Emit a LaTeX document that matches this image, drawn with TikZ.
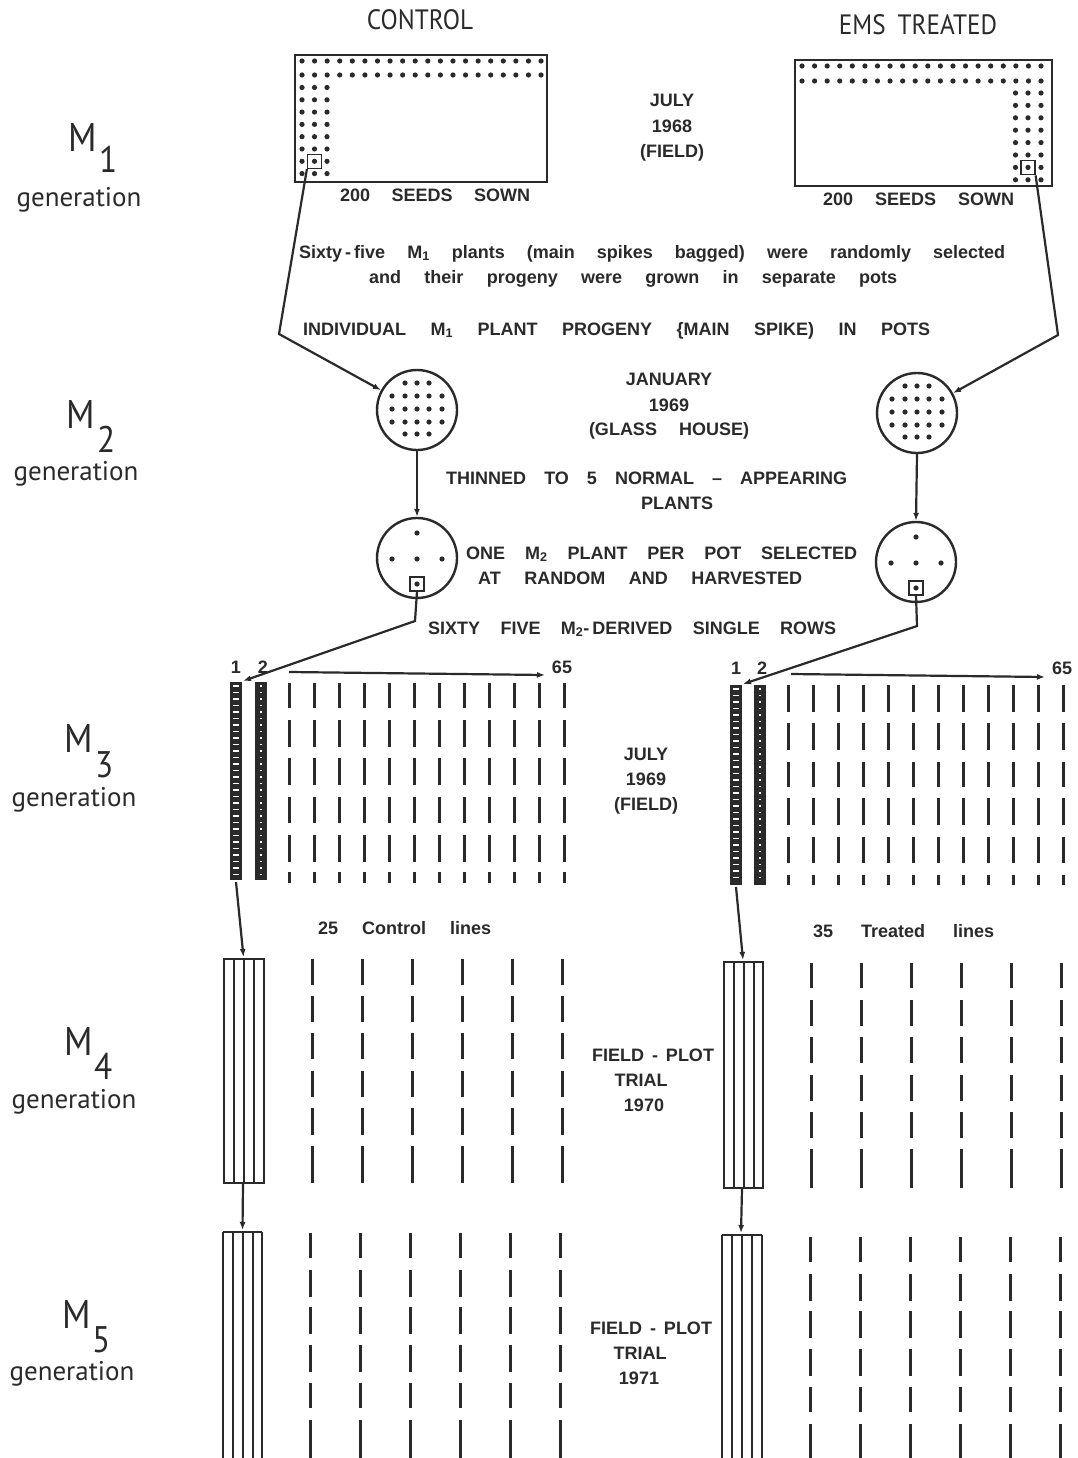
\documentclass[tikz,border=0pt]{standalone}
\usepackage{fontspec}
\setmainfont{Liberation Sans}
\newfontfamily\headfont{PT Sans}[FakeStretch=0.9]
\newfontfamily\genfont{PT Sans}
\usetikzlibrary{arrows.meta}
\definecolor{ink}{HTML}{2A2A2A}
\newcommand\spr[2]{\hbox to #1pt{\spaceskip=0.25em plus 1fill\relax #2}}
\begin{document}
\begin{tikzpicture}[x=1pt,y=-1pt,
  body/.style={font=\bfseries\fontsize{18}{18}\selectfont, text=ink, inner sep=0pt},
  txt/.style={body, anchor=base west},
  ctr/.style={body, anchor=base},
  head/.style={font=\headfont\fontsize{28}{28}\selectfont, text=ink, inner sep=0pt},
  bigm/.style={font=\headfont\fontsize{40}{40}\selectfont, text=ink, inner sep=0pt, anchor=base west},
  bigd/.style={font=\headfont\fontsize{37}{37}\selectfont, text=ink, inner sep=0pt, anchor=base west},
  gen/.style={font=\genfont\fontsize{27}{27}\selectfont, text=ink, inner sep=0pt, anchor=base},
  field/.style={draw=ink, line width=2.6pt},
  seed/.style={fill=ink},
  pot/.style={circle, draw=ink, line width=2.4pt, minimum size=80pt, inner sep=0pt},
  selbox/.style={draw=ink, line width=1.2pt, minimum size=14pt, inner sep=0pt},
  conn/.style={draw=ink, line width=2.2pt},
  arr/.style={conn, -{Latex[length=8pt,width=6pt]}},
  dashline/.style={draw=ink, line width=3pt},
  strip/.style={draw=ink, line width=2pt}
]
\useasboundingbox (0,0) rectangle (1077,1458);
\fill[white] (0,0) rectangle (1077,1458);

% ---------- headings ----------
\node[head] (hc) at (420,20) {CONTROL};
\node[head] (ht) at (918,25) {EMS\hspace{12pt}TREATED};

% ---------- generation labels ----------
\node[bigm] (m1) at (68,152) {M};  \node[bigd] (m1s) at (99,173) {1};
\node[gen] (g1) at (79,207) {generation};
\node[bigm] (m2) at (66,428) {M};  \node[bigd] (m2s) at (97,452) {2};
\node[gen] (g2) at (76,480) {generation};
\node[bigm] (m3) at (64,752) {M};  \node[bigd] (m3s) at (95,777) {3};
\node[gen] (g3) at (74,806) {generation};
\node[bigm] (m4) at (64,1055) {M}; \node[bigd] (m4s) at (94,1079) {4};
\node[gen] (g4) at (74,1108) {generation};
\node[bigm] (m5) at (62,1328) {M}; \node[bigd] (m5s) at (92,1352) {5};
\node[gen] (g5) at (72,1380) {generation};

% ---------- M1 fields ----------
\draw[field] (295,55) rectangle (547,182);
\foreach \i in {0,...,19}{
  \fill[seed] ({302+\i*12.58},61) circle (2.6);
  \fill[seed] ({302+\i*12.58},75) circle (2.6);}
\foreach \j in {0,...,7}{
  \foreach \xx in {302,314.5,327}{\fill[seed] (\xx,{87.5+\j*12.3}) circle (2.6);}}
\node[selbox] (sqL) at (314.5,161.5) {};

\draw[field] (795,60) rectangle (1052,186);
\foreach \i in {0,...,19}{
  \fill[seed] ({802+\i*12.58},66) circle (2.6);
  \fill[seed] ({802+\i*12.58},81) circle (2.6);}
\foreach \j in {0,...,7}{
  \foreach \xx in {1015.5,1028,1041}{\fill[seed] (\xx,{93+\j*12.4}) circle (2.6);}}
\node[selbox] (sqR) at (1028,167.8) {};

\node[txt] (sl) at (340,201) {\spr{190}{200 SEEDS SOWN}};
\node[txt] (sr) at (823,205) {\spr{191}{200 SEEDS SOWN}};

\node[ctr] (d1a) at (672,107) {JULY};
\node[ctr] (d1b) at (672,133) {1968};
\node[ctr] (d1c) at (672,158) {(FIELD)};

% ---------- text M1 -> M2 ----------
\node[txt] (t1) at (299,258) {\spr{706}{Sixty\,-\,five M\textsubscript{1} plants (main spikes bagged) were randomly selected}};
\node[txt] (t2) at (369,283) {\spr{528}{and their progeny were grown in separate pots}};
\node[txt] (t3) at (303,335) {\spr{627}{INDIVIDUAL M\textsubscript{1} PLANT PROGENY \{MAIN SPIKE) IN POTS}};

% ---------- M2 pots ----------
\node[pot] (p1L) at (417,410) {};
\node[pot] (p1R) at (917,413) {};
\node[pot] (p2L) at (417,558) {};
\node[pot] (p2R) at (916,562) {};
\foreach \dx/\dy in {-12/-27,0/-27,12/-27,
  -25/-14,-12/-14,0/-14,12/-14,25/-14,
  -25/-1,-12/-1,0/-1,12/-1,25/-1,
  -25/12,-12/12,0/12,12/12,25/12,
  -12/24,0/24,12/24}{
  \fill[seed] ([shift={(\dx,\dy)}]p1L.center) circle (2.6);
  \fill[seed] ([shift={(\dx,\dy)}]p1R.center) circle (2.6);}
\foreach \dx/\dy in {0/-25,-25/1,0/1,25/1,0/26}{
  \fill[seed] ([shift={(\dx,\dy)}]p2L.center) circle (2.6);
  \fill[seed] ([shift={(\dx,\dy)}]p2R.center) circle (2.6);}
\node[selbox] (qL) at ([shift={(0,26)}]p2L.center) {};
\node[selbox] (qR) at ([shift={(0,26)}]p2R.center) {};

\coordinate (bL) at (279,334);
\coordinate (bR) at (1058,335);
\draw[arr] (sqL.south west) -- (bL) -- (p1L);
\draw[arr] (sqR.south east) -- (bR) -- (p1R);
\draw[arr] (p1L.south) -- (p2L.north);
\draw[arr] (p1R.south) -- (p2R.north);

\node[ctr] (d2a) at (669,385) {JANUARY};
\node[ctr] (d2b) at (669,411) {1969};
\node[ctr] (d2c) at (669,435) {(GLASS\hspace{22pt}HOUSE)};
\node[txt] (t4) at (446,484) {\spr{401}{THINNED TO 5 NORMAL -- APPEARING}};
\node[ctr] (t5) at (677,509) {PLANTS};
\node[txt] (t6) at (466,559) {\spr{391}{ONE M\textsubscript{2} PLANT PER POT SELECTED}};
\node[txt] (t7) at (478,584) {\spr{324}{AT RANDOM AND HARVESTED}};
\node[txt] (t8) at (428,634) {\spr{408}{SIXTY FIVE M\textsubscript{2}-\,DERIVED SINGLE ROWS}};

% ---------- M3 rows ----------
\node[body,anchor=base] (n1L) at (236,673) {1};
\node[body,anchor=base] (n2L) at (263,673) {2};
\node[body,anchor=base] (n65L) at (562,673) {65};
\node[body,anchor=base] (n1R) at (736,674) {1};
\node[body,anchor=base] (n2R) at (762,674) {2};
\node[body,anchor=base] (n65R) at (1062,674) {65};
\coordinate (aL1) at (289,672); \coordinate (aL2) at (545,675);
\coordinate (aR1) at (791,674); \coordinate (aR2) at (1045,677);
\draw[arr] (aL1) -- (aL2);
\draw[arr] (aR1) -- (aR2);

% bars 1 and 2
\fill[ink] (230,682) rectangle (242,880);
\fill[ink] (255,682) rectangle (267,880);
\fill[ink] (730,685) rectangle (742,885);
\fill[ink] (754,685) rectangle (766,885);
\foreach \yy in {686,692.5,...,876}{
  \draw[white,line width=1.1pt] (233,\yy) -- (239,\yy);
  \draw[white,line width=1.1pt] (260,\yy) -- (262,\yy);}
\foreach \yy in {689,695.5,...,881}{
  \draw[white,line width=1.1pt] (733,\yy) -- (739,\yy);
  \draw[white,line width=1.1pt] (759,\yy) -- (761,\yy);}
\coordinate (r1L) at (243,681);
\coordinate (r1R) at (743,684);
\coordinate (kL) at (415,621);
\coordinate (kR) at (917,626);
\draw[arr] (qL.south) -- (kL) -- (r1L);
\draw[arr] (qR.south) -- (kR) -- (r1R);

\foreach \x in {289,314,...,564}{
  \foreach \a/\b in {683/708,720/747,758/785,797/823,835/862,872/883}{
    \draw[dashline] (\x,\a) -- (\x,\b);}}
\foreach \x in {788,813,...,1063}{
  \foreach \a/\b in {685/712,723/750,762/787,798/825,837/863,875/885}{
    \draw[dashline] (\x,\a) -- (\x,\b);}}

\node[ctr] (d3a) at (646,760) {JULY};
\node[ctr] (d3b) at (646,785) {1969};
\node[ctr] (d3c) at (646,810) {(FIELD)};

\node[txt] (cl) at (318,934) {\spr{173}{25 Control lines}};
\node[txt] (tl) at (813,937) {\spr{181}{35 Treated lines}};

% ---------- M4 ----------
\coordinate (b3L) at (236,882); \coordinate (b3R) at (736,887);
\coordinate (top4L) at (243.5,957); \coordinate (top4R) at (743,960);
\draw[arr] (b3L) -- (top4L);
\draw[arr] (b3R) -- (top4R);
\draw[strip] (223.5,959) rectangle (263.5,1183);
\foreach \xx in {233.5,243.5,253.5}{\draw[strip] (\xx,959) -- (\xx,1183);}
\draw[strip] (724,962) rectangle (763,1188);
\foreach \xx in {733.5,743.5,753.5}{\draw[strip] (\xx,962) -- (\xx,1188);}
\foreach \x in {312,362,...,562}{
  \foreach \a/\b in {959/985,996/1022,1033/1059,1071/1097,1108/1135,1146/1183}{
    \draw[dashline] (\x,\a) -- (\x,\b);}}
\foreach \x in {811,861,...,1061}{
  \foreach \a/\b in {963/988,1000/1026,1037/1063,1075/1101,1112/1138,1149/1188}{
    \draw[dashline] (\x,\a) -- (\x,\b);}}
\node[ctr] (d4a) at (653,1061) {FIELD\hspace{8pt}-\hspace{8pt}PLOT};
\node[ctr] (d4b) at (641,1086) {TRIAL};
\node[ctr] (d4c) at (644,1111) {1970};

% ---------- M5 ----------
\coordinate (b4L) at (243,1184); \coordinate (b4R) at (742,1189);
\coordinate (top5L) at (242.5,1230); \coordinate (top5R) at (741,1233);
\draw[arr] (b4L) -- (top5L);
\draw[arr] (b4R) -- (top5R);
\draw[strip] (223,1232) -- (223,1462) (262,1232) -- (262,1462) (223,1232) -- (262,1232);
\foreach \xx in {232.5,242.5,252.5}{\draw[strip] (\xx,1232) -- (\xx,1462);}
\draw[strip] (722,1235) -- (722,1462) (762,1235) -- (762,1462) (722,1235) -- (762,1235);
\foreach \xx in {732,742,752}{\draw[strip] (\xx,1235) -- (\xx,1462);}
\foreach \x in {310,360,...,560}{
  \foreach \a/\b in {1233/1258,1270/1297,1307/1334,1345/1372,1383/1408,1420/1460}{
    \draw[dashline] (\x,\a) -- (\x,\b);}}
\foreach \x in {810,860,...,1060}{
  \foreach \a/\b in {1237/1262,1274/1301,1311/1338,1349/1376,1387/1412,1424/1460}{
    \draw[dashline] (\x,\a) -- (\x,\b);}}
\node[ctr] (d5a) at (651,1334) {FIELD\hspace{8pt}-\hspace{8pt}PLOT};
\node[ctr] (d5b) at (640,1359) {TRIAL};
\node[ctr] (d5c) at (639,1384) {1971};
\end{tikzpicture}
\end{document}
